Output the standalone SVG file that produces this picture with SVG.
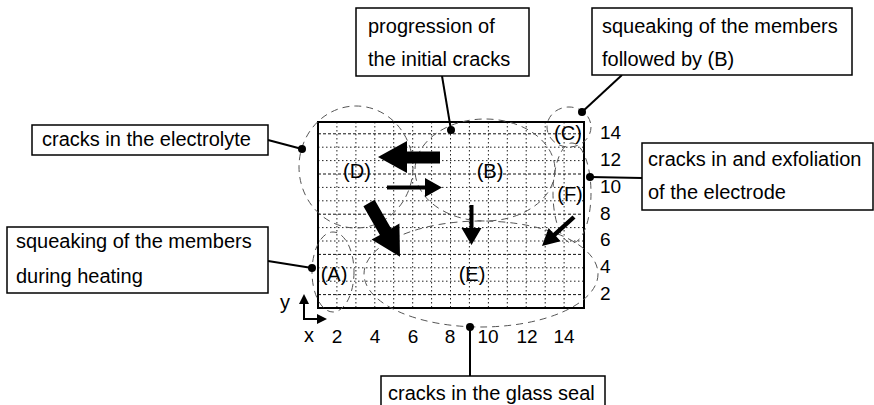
<svg xmlns="http://www.w3.org/2000/svg" width="874" height="405" viewBox="0 0 874 405">
<style>
text{font-family:"Liberation Sans",Arial,sans-serif;fill:#000}
.t{font-size:20px}
.n{font-size:19px}
.box{fill:#fff;stroke:#000;stroke-width:1.5}
.lead{stroke:#000;stroke-width:2;fill:none}
.dot{fill:#000}
.grid{stroke:#222;stroke-width:1;stroke-dasharray:1.5 2.5;fill:none}
.grid2{stroke:#111;stroke-width:1;stroke-dasharray:3 2;fill:none}
.zone{fill:none;stroke:#555;stroke-width:1;stroke-dasharray:7 5}
.arr{fill:#000}
</style>
<rect width="874" height="405" fill="#fff"/>
<g id="grid">
<path class="grid" d="M336.9 122V308M355.9 122V308M374.8 122V308M393.7 122V308M412.7 122V308M431.6 122V308M450.5 122V308M469.4 122V308M488.4 122V308M507.3 122V308M526.2 122V308M545.2 122V308M564.1 122V308M318 281.2H584M318 267.8H584M318 241H584M318 227.6H584M318 200.8H584M318 187.4H584M318 160.6H584M318 147.2H584"/>
<path class="grid2" d="M318 294.6H584M318 254.4H584M318 214.2H584M318 174H584M318 133.8H584"/>
<rect x="318" y="122" width="266" height="186" fill="none" stroke="#000" stroke-width="2"/>
</g>
<g id="zones">
<ellipse class="zone" cx="356" cy="167" rx="57" ry="61"/>
<ellipse class="zone" cx="485" cy="170" rx="70" ry="51"/>
<ellipse class="zone" cx="569" cy="127" rx="22" ry="20"/>
<ellipse class="zone" cx="572" cy="193" rx="19" ry="50"/>
<ellipse class="zone" cx="333" cy="272" rx="21" ry="40"/>
<ellipse class="zone" cx="481" cy="274" rx="117" ry="53"/>
</g>
<g id="zone-labels" class="t">
<text x="357" y="178" text-anchor="middle">(D)</text>
<text x="490" y="178" text-anchor="middle">(B)</text>
<text x="568" y="140" text-anchor="middle">(C)</text>
<text x="570" y="201" text-anchor="middle">(F)</text>
<text x="334" y="281" text-anchor="middle">(A)</text>
<text x="472" y="281" text-anchor="middle">(E)</text>
</g>
<g id="arrows">
<polygon class="arr" points="378,157 407,141 407,151.5 440,151.5 440,163.5 407,163.5 407,173"/>
<polygon class="arr" points="387,185.5 425,185.5 425,178 442,187.5 425,197 425,189.5 387,189.5"/>
<polygon class="arr" points="374.6,199.8 391.1,228.4 399.4,223.6 400,256.7 371.6,239.6 379.9,234.9 363.4,206.3"/>
<polygon class="arr" points="469.5,205 473.5,205 473.5,228 481.5,228 471.5,245 461.5,228 469.5,228"/>
<polygon class="arr" points="572.5,215.4 575.5,218.6 556.1,236.2 560.6,241.3 542,246 548.6,227.9 553.1,233"/>
</g>
<g id="axes">
<path d="M304 319V302M303 319H318" stroke="#000" stroke-width="2" fill="none"/>
<polygon points="304,294 299,304 309,304" fill="#000"/>
<polygon points="327,319 317,314 317,324" fill="#000"/>
<text class="t" x="285" y="309" text-anchor="middle">y</text>
<text class="t" x="309" y="342" text-anchor="middle">x</text>
<g class="n" text-anchor="middle">
<text x="337" y="343">2</text><text x="375" y="343">4</text><text x="413" y="343">6</text><text x="450" y="343">8</text><text x="488" y="343">10</text><text x="527" y="343">12</text><text x="564" y="343">14</text>
</g>
<g class="n">
<text x="600" y="139.2">14</text><text x="600" y="166">12</text><text x="600" y="192.8">10</text><text x="600" y="219.6">8</text><text x="600" y="246.4">6</text><text x="600" y="273.2">4</text><text x="600" y="300">2</text>
</g>
</g>
<g id="connectors">
<path class="lead" d="M442 76L451 130"/>
<path class="lead" d="M622 75L582 112"/>
<path class="lead" d="M642 178L590 177"/>
<path class="lead" d="M268 140L302 149"/>
<path class="lead" d="M268 261L312 268"/>
<path class="lead" d="M470 376V327"/>
<circle class="dot" cx="451" cy="130" r="4"/>
<circle class="dot" cx="582" cy="112" r="4"/>
<circle class="dot" cx="590" cy="177" r="4"/>
<circle class="dot" cx="302" cy="149" r="4"/>
<circle class="dot" cx="312" cy="268" r="4"/>
<circle class="dot" cx="470" cy="327" r="4"/>
</g>
<g id="box-progression">
<rect class="box" x="356" y="8" width="173" height="68"/>
<text class="t" x="368" y="33">progression of</text>
<text class="t" x="368" y="66">the initial cracks</text>
</g>
<g id="box-squeaking-b">
<rect class="box" x="592" y="8" width="260" height="67"/>
<text class="t" x="602" y="33">squeaking of the members</text>
<text class="t" x="602" y="66">followed by (B)</text>
</g>
<g id="box-electrode">
<rect class="box" x="642" y="143" width="231" height="67"/>
<text class="t" x="648" y="166">cracks in and exfoliation</text>
<text class="t" x="648" y="199">of the electrode</text>
</g>
<g id="box-electrolyte">
<rect class="box" x="32" y="125" width="236" height="30"/>
<text class="t" x="42" y="146">cracks in the electrolyte</text>
</g>
<g id="box-heating">
<rect class="box" x="7" y="227" width="261" height="66"/>
<text class="t" x="16" y="248">squeaking of the members</text>
<text class="t" x="16" y="283">during heating</text>
</g>
<g id="box-glass">
<rect class="box" x="381" y="376" width="224" height="40"/>
<text class="t" x="388" y="400">cracks in the glass seal</text>
</g>
</svg>
